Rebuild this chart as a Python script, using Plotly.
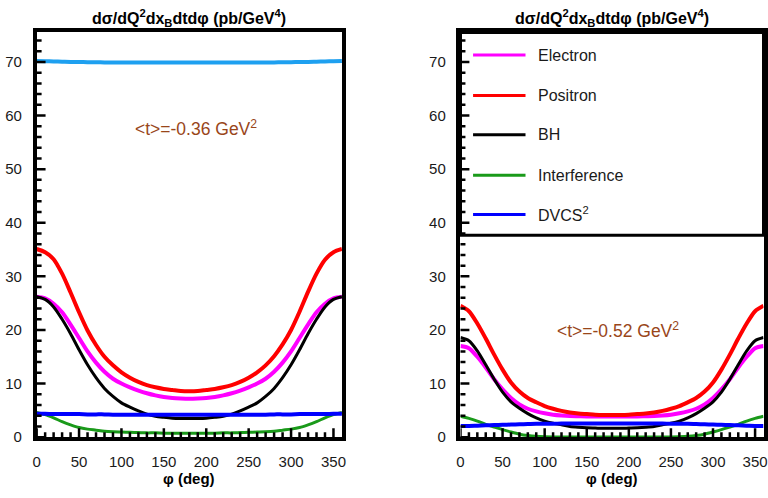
import plotly.graph_objects as go

# azimuthal angle grid (deg)
phi = list(range(0, 361, 10))

# <t> = -0.36 GeV^2
electron_036 = [26.2, 25.9, 24.9, 23.3, 21.0, 18.5, 16.0, 13.9, 12.2, 10.9, 10.0, 9.3, 8.7, 8.2, 7.8, 7.5, 7.3, 7.2, 7.15,
                7.2, 7.3, 7.5, 7.8, 8.2, 8.7, 9.3, 10.0, 10.9, 12.2, 13.9, 16.0, 18.5, 21.0, 23.3, 24.9, 25.9, 26.2]
positron_036 = [35.1, 34.5, 33.2, 30.5, 27.0, 23.3, 19.9, 17.2, 15.0, 13.4, 12.1, 11.1, 10.3, 9.7, 9.3, 9.0, 8.8, 8.6, 8.55,
                8.6, 8.8, 9.0, 9.3, 9.7, 10.3, 11.1, 12.1, 13.4, 15.1, 17.3, 20.0, 23.4, 27.1, 30.5, 33.1, 34.5, 35.1]
bh_036 = [26.2, 25.7, 24.3, 22.0, 19.3, 16.3, 13.5, 11.1, 9.1, 7.6, 6.4, 5.6, 4.9, 4.3, 3.9, 3.7, 3.55, 3.5, 3.5,
          3.5, 3.55, 3.7, 3.9, 4.3, 4.9, 5.6, 6.4, 7.6, 9.1, 11.1, 13.5, 16.3, 19.3, 22.0, 24.3, 25.7, 26.2]
interf_036 = [4.6, 4.2, 3.6, 2.9, 2.3, 1.8, 1.5, 1.3, 1.1, 1.0, 0.95, 0.9, 0.85, 0.8, 0.8, 0.75, 0.75, 0.75, 0.75,
              0.75, 0.75, 0.75, 0.8, 0.8, 0.85, 0.9, 0.95, 1.0, 1.1, 1.3, 1.5, 1.8, 2.3, 2.9, 3.6, 4.2, 4.6]
dvcs_036 = [4.35, 4.35, 4.3, 4.3, 4.3, 4.3, 4.25, 4.25, 4.25, 4.2, 4.2, 4.2, 4.2, 4.2, 4.2, 4.2, 4.2, 4.2, 4.2,
            4.2, 4.2, 4.2, 4.2, 4.2, 4.2, 4.2, 4.2, 4.2, 4.25, 4.25, 4.25, 4.3, 4.3, 4.3, 4.3, 4.35, 4.35]
# light-blue reference curve near 70
ref_036 = [70.2, 70.15, 70.1, 70.05, 70.0, 70.0, 69.95, 69.95, 69.9, 69.9, 69.9, 69.9, 69.9, 69.9, 69.9, 69.9, 69.9, 69.9, 69.9,
           69.9, 69.9, 69.9, 69.9, 69.9, 69.9, 69.9, 69.9, 69.9, 69.9, 69.95, 69.95, 70.0, 70.0, 70.05, 70.1, 70.15, 70.2]

# <t> = -0.52 GeV^2
electron_052 = [17.0, 16.6, 15.0, 13.0, 10.8, 8.9, 7.3, 6.1, 5.3, 4.8, 4.45, 4.2, 4.05, 3.95, 3.9, 3.85, 3.85, 3.85, 3.85,
                3.85, 3.85, 3.85, 3.9, 3.95, 4.05, 4.2, 4.45, 4.8, 5.3, 6.1, 7.3, 8.9, 10.8, 13.0, 15.0, 16.6, 17.0]
positron_052 = [24.5, 23.5, 21.2, 18.4, 15.4, 12.6, 10.2, 8.5, 7.3, 6.5, 5.8, 5.3, 4.9, 4.6, 4.4, 4.3, 4.2, 4.15, 4.15,
                4.15, 4.2, 4.3, 4.4, 4.6, 4.9, 5.3, 5.8, 6.5, 7.3, 8.5, 10.2, 12.6, 15.4, 18.4, 21.2, 23.5, 24.5]
bh_052 = [18.6, 18.0, 16.1, 13.5, 10.8, 8.4, 6.6, 5.4, 4.4, 3.6, 3.0, 2.6, 2.3, 2.0, 1.85, 1.75, 1.7, 1.65, 1.65,
          1.65, 1.7, 1.75, 1.85, 2.0, 2.3, 2.6, 3.0, 3.6, 4.4, 5.4, 6.6, 8.4, 10.8, 13.5, 16.1, 18.0, 18.6]
interf_052 = [3.9, 3.5, 3.0, 2.4, 1.9, 1.4, 0.95, 0.55, 0.3, 0.15, 0.08, 0.05, 0.05, 0.05, 0.05, 0.05, 0.05, 0.05, 0.05,
              0.05, 0.05, 0.05, 0.05, 0.05, 0.05, 0.05, 0.08, 0.15, 0.3, 0.55, 0.95, 1.4, 1.9, 2.4, 3.0, 3.5, 3.9]
dvcs_052 = [2.1, 2.1, 2.15, 2.2, 2.25, 2.3, 2.35, 2.4, 2.45, 2.5, 2.5, 2.5, 2.55, 2.55, 2.55, 2.55, 2.55, 2.55, 2.55,
            2.55, 2.55, 2.55, 2.55, 2.55, 2.55, 2.5, 2.5, 2.5, 2.45, 2.4, 2.35, 2.3, 2.25, 2.2, 2.15, 2.1, 2.1]

series_names = ["Electron", "Positron", "BH", "Interference", "DVCS<sup>2</sup>"]
series_colors = ["#ff00ff", "#ff0000", "#000000", "#1a9a1a", "#0000ff"]
series_widths = [4, 4, 3, 3, 4]
t_labels = ["&lt;t&gt;=-0.36 GeV<sup>2</sup>", "&lt;t&gt;=-0.52 GeV<sup>2</sup>"]

# tick positions (major / minor)
x_major = list(range(0, 351, 50))
x_minor = [v for v in range(10, 360, 10) if v % 50]
y_major = list(range(0, 71, 10))
y_minor = [v for v in range(2, 76, 2) if v % 10]

FONT = "Liberation Sans, Arial, sans-serif"
W, H = 768, 498

fig = go.Figure()

panels = [
    ("x", "y", [electron_036, positron_036, bh_036, interf_036, dvcs_036]),
    ("x2", "y2", [electron_052, positron_052, bh_052, interf_052, dvcs_052]),
]

fig.add_trace(go.Scatter(x=phi, y=ref_036, mode="lines", xaxis="x", yaxis="y",
                         line=dict(color="#1ea0f0", width=4, shape="spline", smoothing=0.8),
                         showlegend=False, hoverinfo="skip"))

for xa, ya, curves in panels:
    for vals, name, col, w in zip(curves, series_names, series_colors, series_widths):
        fig.add_trace(go.Scatter(x=phi, y=vals, mode="lines", name=name, xaxis=xa, yaxis=ya,
                                 line=dict(color=col, width=w, shape="spline", smoothing=0.8),
                                 showlegend=False))

# panel geometry in pixels
panel_px = [(33, 341.5), (461.3, 767.5)]
top_px, bot_px = 33, 444.3
plot_h = bot_px - top_px

ydom = [1 - bot_px / H, 1 - top_px / H]

def make_x(dom, anchor):
    return dict(domain=dom, anchor=anchor, range=[0, 360], showgrid=False, zeroline=False,
                showline=True, linecolor="black", linewidth=3.5, mirror=True, ticks="",
                tickmode="array", tickvals=x_major, ticklabelstandoff=8,
                tickfont=dict(family=FONT, size=15, color="#1a1a1a"))

def make_y(anchor):
    return dict(domain=ydom, range=[0, 75.5], anchor=anchor, showgrid=False, zeroline=False,
                showline=True, linecolor="black", linewidth=3.5, mirror=True, ticks="",
                tickmode="array", tickvals=y_major, ticklabelstandoff=8,
                tickfont=dict(family=FONT, size=15, color="#1a1a1a"))

fig.update_layout(
    width=W, height=H,
    margin=dict(l=0, r=0, t=0, b=0),
    paper_bgcolor="white", plot_bgcolor="white",
    xaxis=make_x([panel_px[0][0] / W, panel_px[0][1] / W], "y"),
    yaxis=make_y("x"),
    xaxis2=make_x([panel_px[1][0] / W, panel_px[1][1] / W], "y2"),
    yaxis2=make_y("x2"),
    showlegend=False,
)

annotations = []
shapes = []

# legend box in the second panel (under the tick marks)
shapes.append(dict(type="rect", xref="paper", yref="paper",
                   x0=panel_px[1][0] / W, x1=panel_px[1][1] / W,
                   y0=1 - 239 / H, y1=1 - top_px / H,
                   line=dict(color="black", width=3), fillcolor="white", layer="below"))

# inward tick marks along the bottom and left edges of each frame
tick_line = dict(color="black", width=2.5)
for (xa, ya, _), (a, b) in zip(panels, panel_px):
    plot_w = b - a
    for v, ln in [(v, 9) for v in x_major] + [(v, 5) for v in x_minor]:
        shapes.append(dict(type="line", xref=xa, yref=f"{ya} domain", x0=v, x1=v,
                           y0=0, y1=ln / plot_h, line=tick_line, layer="above"))
    for v, ln in [(v, 9) for v in y_major] + [(v, 5) for v in y_minor]:
        shapes.append(dict(type="line", xref=f"{xa} domain", yref=ya, x0=0, x1=ln / plot_w,
                           y0=v, y1=v, line=tick_line, layer="above"))

title_txt = "<b>dσ/dQ<sup>2</sup>dx<sub>B</sub>dtdφ (pb/GeV<sup>4</sup>)</b>"
for (a, b) in panel_px:
    cx = (a + b) / 2 / W
    annotations.append(dict(text=title_txt, x=cx, y=1 - 18 / H, xref="paper", yref="paper",
                            showarrow=False, xanchor="center", yanchor="middle",
                            font=dict(family=FONT, size=16, color="black")))
    annotations.append(dict(text="<b>φ (deg)</b>", x=cx, y=1 - 486 / H, xref="paper", yref="paper",
                            showarrow=False, xanchor="center", yanchor="middle",
                            font=dict(family=FONT, size=15, color="black")))

annotations.append(dict(text=t_labels[0], x=188, y=57.7, xref="x", yref="y", showarrow=False,
                        xanchor="center", yanchor="middle",
                        font=dict(family=FONT, size=17.5, color="#99461a")))
annotations.append(dict(text=t_labels[1], x=187, y=20.0, xref="x2", yref="y2", showarrow=False,
                        xanchor="center", yanchor="middle",
                        font=dict(family=FONT, size=17.5, color="#99461a")))

entry_y = [56, 97, 137, 178, 218]
for name, col, yy in zip(series_names, series_colors, entry_y):
    shapes.append(dict(type="line", xref="paper", yref="paper",
                       x0=474 / W, x1=527 / W, y0=1 - yy / H, y1=1 - yy / H,
                       line=dict(color=col, width=3), layer="above"))
    annotations.append(dict(text=name, x=538 / W, y=1 - yy / H, xref="paper", yref="paper",
                            showarrow=False, xanchor="left", yanchor="middle",
                            font=dict(family=FONT, size=16, color="#1a1a1a")))

fig.update_layout(annotations=annotations, shapes=shapes)

fig.write_html("out.html")
